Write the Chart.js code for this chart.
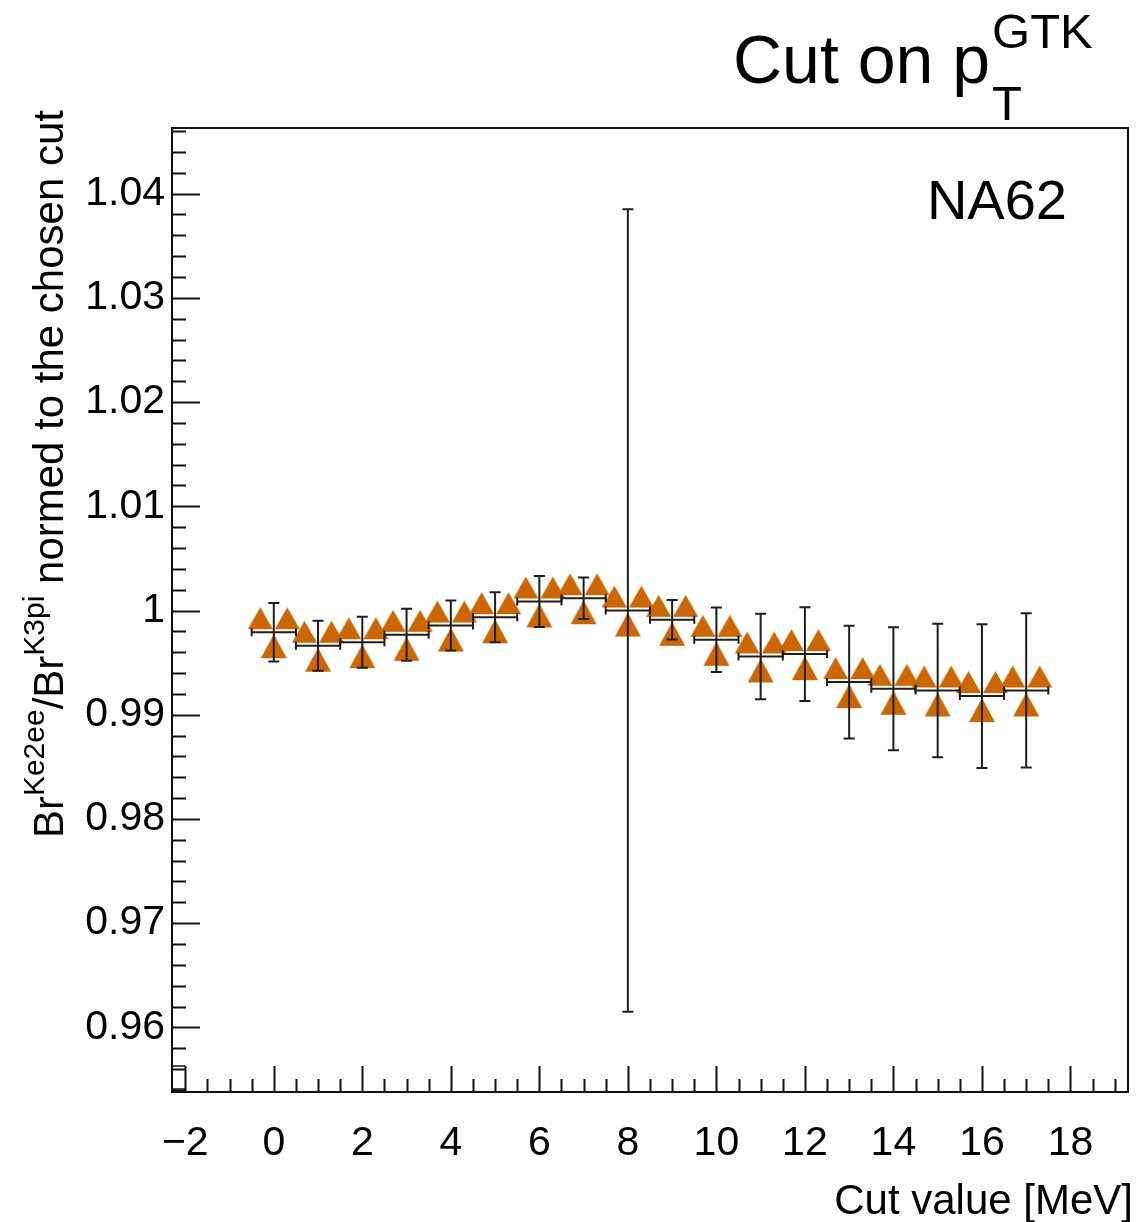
<!DOCTYPE html>
<html><head><meta charset="utf-8">
<script src="https://cdn.jsdelivr.net/npm/chart.js@4.4.0/dist/chart.umd.min.js"></script>
<style>html,body{margin:0;padding:0;background:#fff;}#wrap{width:1142px;height:1222px;position:relative;}</style>
</head><body><div id="wrap"><canvas id="c" width="1142" height="1222"></canvas></div>
<script>
// ---- data ----
const cutValues = [0, 1, 2, 3, 4, 5, 6, 7, 8, 9, 10, 11, 12, 13, 14, 15, 16, 17];
const ratioValues = [0.99792, 0.99662, 0.99696, 0.99767, 0.99856, 0.99936, 1.00087, 1.00118, 1.00000, 0.99911, 0.99719, 0.99559, 0.99582, 0.99313, 0.99249, 0.99233, 0.99179, 0.99233];
const ratioErrors = [0.0028, 0.0024, 0.00245, 0.0025, 0.0024, 0.0024, 0.00245, 0.0020, 0.0385, 0.0019, 0.0031, 0.0041, 0.0045, 0.0054, 0.0059, 0.0064, 0.0069, 0.0074];
const cutErrors = [0.5, 0.5, 0.5, 0.5, 0.5, 0.5, 0.5, 0.5, 0.5, 0.5, 0.5, 0.5, 0.5, 0.5, 0.5, 0.5, 0.5, 0.5];
const xTickValues = [-2, 0, 2, 4, 6, 8, 10, 12, 14, 16, 18];
const xTickLabels = ["\u22122", "0", "2", "4", "6", "8", "10", "12", "14", "16", "18"];
const yTickValues = [0.96, 0.97, 0.98, 0.99, 1.00, 1.01, 1.02, 1.03, 1.04];
const yTickLabels = ["0.96", "0.97", "0.98", "0.99", "1", "1.01", "1.02", "1.03", "1.04"];

const FONT = "'Liberation Sans', Arial, Helvetica, sans-serif";
const MARKER_COLOR = '#CC6600';
const LINE_COLOR = '#1e1e1e';
const AREA = { left: 172, top: 128, right: 1128, bottom: 1092 };

// three-triangles marker (ROOT style 39)
function makeMarker() {
  const c = document.createElement('canvas');
  c.width = 56; c.height = 56;
  const g = c.getContext('2d');
  g.fillStyle = MARKER_COLOR;
  const tri = (cx, topY, botY, w) => {
    g.beginPath();
    g.moveTo(cx, topY); g.lineTo(cx + w / 2, botY); g.lineTo(cx - w / 2, botY); g.closePath(); g.fill();
  };
  tri(14.5, 3, 25, 25);
  tri(41.5, 3, 25, 25);
  tri(28, 30, 54, 26);
  return c;
}
const marker = makeMarker();

const errorBarPlugin = {
  id: 'errorBars',
  afterDatasetsDraw(chart) {
    const xs = chart.scales.x, ys = chart.scales.y, ctx = chart.ctx;
    ctx.save();
    ctx.strokeStyle = LINE_COLOR;
    ctx.lineWidth = 2;
    for (let i = 0; i < cutValues.length; i++) {
      const x = xs.getPixelForValue(cutValues[i]);
      const y = ys.getPixelForValue(ratioValues[i]);
      const xl = xs.getPixelForValue(cutValues[i] - cutErrors[i]);
      const xr = xs.getPixelForValue(cutValues[i] + cutErrors[i]);
      const yt = ys.getPixelForValue(ratioValues[i] + ratioErrors[i]);
      const yb = ys.getPixelForValue(ratioValues[i] - ratioErrors[i]);
      ctx.beginPath();
      ctx.moveTo(xl, y); ctx.lineTo(xr, y);
      ctx.moveTo(xl, y - 4); ctx.lineTo(xl, y + 4);
      ctx.moveTo(xr, y - 4); ctx.lineTo(xr, y + 4);
      ctx.moveTo(x, yt); ctx.lineTo(x, yb);
      ctx.moveTo(x - 5.5, yt); ctx.lineTo(x + 5.5, yt);
      ctx.moveTo(x - 5.5, yb); ctx.lineTo(x + 5.5, yb);
      ctx.stroke();
    }
    ctx.restore();
  }
};

const framePlugin = {
  id: 'rootFrame',
  afterDraw(chart) {
    const a = chart.chartArea, ctx = chart.ctx;
    const xs = chart.scales.x, ys = chart.scales.y;
    ctx.save();
    ctx.strokeStyle = '#111';
    ctx.lineWidth = 2;
    ctx.strokeRect(a.left, a.top, a.right - a.left, a.bottom - a.top);
    ctx.beginPath();
    const yStep = 0.002;
    for (let k = Math.ceil(ys.min / yStep); k <= Math.floor(ys.max / yStep); k++) {
      const v = k * yStep;
      const major = k % 5 === 0;
      const py = Math.round(ys.getPixelForValue(v)) + 0.5;
      ctx.moveTo(a.left, py); ctx.lineTo(a.left + (major ? 28 : 14), py);
    }
    const xStep = 0.5;
    for (let k = Math.ceil(xs.min / xStep); k <= Math.floor(xs.max / xStep); k++) {
      const v = k * xStep;
      const major = k % 4 === 0;
      const px = Math.round(xs.getPixelForValue(v)) + 0.5;
      ctx.moveTo(px, a.bottom); ctx.lineTo(px, a.bottom - (major ? 26 : 13));
    }
    ctx.stroke();
    // small box artefact at lower-left corner
    const bx = xs.getPixelForValue(-2);
    ctx.lineWidth = 1.5;
    ctx.beginPath();
    ctx.moveTo(a.left, a.bottom - 26); ctx.lineTo(bx, a.bottom - 26);
    ctx.moveTo(a.left, a.bottom - 3); ctx.lineTo(bx, a.bottom - 3);
    ctx.stroke();

    ctx.fillStyle = '#000';
    ctx.textBaseline = 'alphabetic';
    // title
    ctx.textAlign = 'left';
    ctx.font = `68px ${FONT}`;
    const t1 = 'Cut on p';
    ctx.fillText(t1, 733, 83);
    const w1 = ctx.measureText(t1).width;
    ctx.font = `49px ${FONT}`;
    ctx.fillText('GTK', 733 + w1 + 2, 48);
    ctx.fillText('T', 733 + w1 + 2, 120);
    // NA62
    ctx.textAlign = 'right';
    ctx.font = `56px ${FONT}`;
    ctx.fillText('NA62', 1067, 219);
    // x title
    ctx.font = `42px ${FONT}`;
    ctx.fillText('Cut value [MeV]', 1133, 1214);
    // y title (rotated)
    ctx.save();
    const segs = [
      ['Br', 42, 0], ['Ke2ee', 30, -19], ['/Br', 42, 0], ['K3pi', 30, -19], [' normed to the chosen cut', 42, 0]
    ];
    let total = 0;
    for (const s of segs) { ctx.font = `${s[1]}px ${FONT}`; total += ctx.measureText(s[0]).width; }
    ctx.translate(63, 110 + total);
    ctx.rotate(-Math.PI / 2);
    ctx.textAlign = 'left';
    let cx = 0;
    for (const s of segs) {
      ctx.font = `${s[1]}px ${FONT}`;
      ctx.fillText(s[0], cx, s[2]);
      cx += ctx.measureText(s[0]).width;
    }
    ctx.restore();
    ctx.restore();
  }
};

new Chart(document.getElementById('c'), {
  type: 'scatter',
  data: {
    datasets: [{
      data: cutValues.map((x, i) => ({ x: x, y: ratioValues[i] })),
      pointStyle: marker,
      pointRadius: 28,
      pointHoverRadius: 28,
      showLine: false
    }]
  },
  options: {
    responsive: false,
    animation: false,
    devicePixelRatio: 1,
    layout: { autoPadding: false, padding: { top: AREA.top, right: 1142 - AREA.right, left: 0, bottom: 0 } },
    plugins: { legend: { display: false }, tooltip: { enabled: false } },
    events: [],
    scales: {
      x: {
        type: 'linear', position: 'bottom', min: -2.3, max: 19.3,
        grid: { display: false, drawTicks: false },
        border: { display: false },
        afterBuildTicks: s => { s.ticks = xTickValues.map(v => ({ value: v })); },
        afterFit: s => { s.height = 1222 - AREA.bottom; s.paddingLeft = 0; s.paddingRight = 0; },
        ticks: {
          autoSkip: false, maxRotation: 0, minRotation: 0, padding: 27, color: '#000',
          font: { family: FONT, size: 41 },
          callback: (v, i) => xTickLabels[i]
        }
      },
      y: {
        type: 'linear', position: 'left', min: 0.9538, max: 1.0463,
        grid: { display: false, drawTicks: false },
        border: { display: false },
        afterBuildTicks: s => { s.ticks = yTickValues.map(v => ({ value: v })); },
        afterFit: s => { s.width = AREA.left; s.paddingTop = 0; s.paddingBottom = 0; },
        ticks: {
          autoSkip: false, padding: 7, color: '#000',
          font: { family: FONT, size: 41 },
          callback: (v, i) => yTickLabels[i]
        }
      }
    }
  },
  plugins: [errorBarPlugin, framePlugin]
});
</script></body></html>
